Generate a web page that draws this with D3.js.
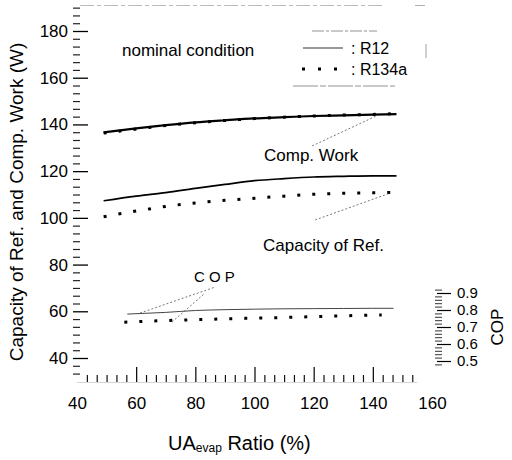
<!DOCTYPE html>
<html><head><meta charset="utf-8">
<script src="https://cdn.jsdelivr.net/npm/d3@7"></script>
<style>
body{margin:0;background:#fff;}
svg{display:block;font-family:"Liberation Sans",Arial,sans-serif;}
.tick text{font-family:"Liberation Sans",Arial,sans-serif;fill:#000;}
</style></head>
<body>
<svg id="c" width="512" height="460"></svg>
<script>
// ---- data ----
const xTicks = [40, 60, 80, 100, 120, 140, 160];
const yTicks = [40, 60, 80, 100, 120, 140, 160, 180];
const copTicks = [0.5, 0.6, 0.7, 0.8, 0.9];

const ratioWork = [49, 60, 70, 80, 90, 100, 110, 120, 130, 140, 148];
const workR12   = [136.6, 138.3, 139.7, 140.9, 141.8, 142.6, 143.1, 143.6, 143.9, 144.2, 144.4];
const workR134a = [136.3, 138.0, 139.5, 140.7, 141.7, 142.5, 143.1, 143.6, 144.0, 144.3, 144.6];

const ratioCap  = [49, 60, 70, 80, 90, 100, 110, 120, 130, 140, 148];
const capR12    = [107.3, 109.3, 110.8, 112.6, 114.3, 115.9, 116.8, 117.5, 117.8, 118.0, 118.0];
const ratioCap134 = [49, 60, 70, 80, 90, 100, 110, 120, 130, 140, 147];
const capR134a  = [100.5, 102.9, 104.9, 106.4, 107.5, 108.4, 109.3, 110.1, 110.5, 110.7, 110.9];

const ratioCopR12 = [57, 65, 70, 80, 90, 100, 110, 120, 130, 140, 147];
const copR12      = [0.776, 0.782, 0.786, 0.797, 0.802, 0.805, 0.807, 0.808, 0.809, 0.810, 0.810];
const ratioCop134 = [56, 60, 70, 80, 90, 100, 110, 120, 130, 143];
const copR134a    = [0.728, 0.731, 0.738, 0.743, 0.748, 0.752, 0.756, 0.761, 0.766, 0.771];

// ---- scales ----
const svg = d3.select("#c");
const x = d3.scaleLinear().domain([40, 160]).range([77, 432]);
const y = d3.scaleLinear().domain([40, 180]).range([358, 31]);
const yc = d3.scaleLinear().domain([0.5, 0.9]).range([361, 293]);

const step = 20 / 6;
// ---- left axis: tick marks pointing right, labels left ----
const yMinor = d3.range(40 - 2 * step, 190.1, step).filter(v => Math.abs(((v - 40) / 20) - Math.round((v - 40) / 20)) > 0.01);
svg.append("g").attr("transform", "translate(73,0)")
  .call(d3.axisRight(y).tickValues(yMinor).tickSize(7).tickFormat(""))
  .call(g => g.select(".domain").remove())
  .call(g => g.selectAll("line").attr("stroke", "#222").attr("stroke-width", 1.2));
svg.append("g").attr("transform", "translate(73,0)")
  .call(d3.axisRight(y).tickValues(yTicks).tickSize(15).tickFormat(""))
  .call(g => g.select(".domain").remove())
  .call(g => g.selectAll("line").attr("stroke", "#000").attr("stroke-width", 1.3));
svg.append("g").attr("transform", "translate(73,0)")
  .call(d3.axisLeft(y).tickValues(yTicks).tickSize(0).tickPadding(5))
  .call(g => g.select(".domain").remove())
  .call(g => g.selectAll("text").attr("font-size", 17));

// ---- bottom axis ----
const xMinor = d3.range(40 + step, 155, step).filter(v => Math.abs(((v - 40) / 20) - Math.round((v - 40) / 20)) > 0.01);
svg.append("g").attr("transform", "translate(0,382)")
  .call(d3.axisTop(x).tickValues(xMinor).tickSize(7).tickFormat(""))
  .call(g => g.select(".domain").attr("d", `M${x(40)},0.5H${x(155)}`).attr("stroke", "#bbb").attr("stroke-width", 0.6))
  .call(g => g.selectAll("line").attr("stroke", "#111").attr("stroke-width", 1.2));
svg.append("g").attr("transform", "translate(0,382)")
  .call(d3.axisTop(x).tickValues([60, 80, 100, 120, 140]).tickSize(15).tickFormat(""))
  .call(g => g.select(".domain").remove())
  .call(g => g.selectAll("line").attr("stroke", "#000").attr("stroke-width", 1.2));
svg.append("g").attr("transform", "translate(0,382)")
  .call(d3.axisBottom(x).tickValues(xTicks).tickSize(0).tickPadding(15))
  .call(g => g.select(".domain").remove())
  .call(g => g.selectAll("text").attr("font-size", 17));

// ---- COP axis (right) ----
const copMinor = d3.range(0.48, 0.921, 0.02).filter(v => Math.abs(v * 10 - Math.round(v * 10)) > 0.01);
svg.append("g").attr("transform", "translate(435,0)")
  .call(d3.axisRight(yc).tickValues(copMinor).tickSize(7).tickFormat(""))
  .call(g => g.select(".domain").remove())
  .call(g => g.selectAll("line").attr("stroke", "#333").attr("stroke-width", 1));
svg.append("g").attr("transform", "translate(437,0)")
  .call(d3.axisRight(yc).tickValues(copTicks).tickSize(14).tickPadding(6).tickFormat(d3.format(".1f")))
  .call(g => g.select(".domain").remove())
  .call(g => g.selectAll("line").attr("stroke", "#000").attr("stroke-width", 1.2))
  .call(g => g.selectAll("text").attr("font-size", 15));

// ---- curves ----
const lineW = d3.line().x(d => x(d[0])).y(d => y(d[1])).curve(d3.curveMonotoneX);
const lineC = d3.line().x(d => x(d[0])).y(d => yc(d[1])).curve(d3.curveMonotoneX);
const zip = (a, b) => a.map((v, i) => [v, b[i]]);

function solid(path, w, col) {
  svg.append("path").attr("d", path).attr("fill", "none").attr("stroke", col || "#000").attr("stroke-width", w);
}
function dotted(path) {
  svg.append("path").attr("d", path).attr("fill", "none").attr("stroke", "#000")
    .attr("stroke-width", 3).attr("stroke-dasharray", "3,12");
}
solid(lineW(zip(ratioWork, workR12)), 2.2);
dotted(lineW(zip(ratioWork, workR134a)));
solid(lineW(zip(ratioCap, capR12)), 1.7);
dotted(lineW(zip(ratioCap134, capR134a)));
solid(lineC(zip(ratioCopR12, copR12)), 1, "#444");
dotted(lineC(zip(ratioCop134, copR134a)));

// ---- annotations ----
const lead = (x1, y1, x2, y2) => svg.append("line").attr("x1", x1).attr("y1", y1).attr("x2", x2).attr("y2", y2)
  .attr("stroke", "#555").attr("stroke-width", 0.8).attr("stroke-dasharray", "2,2");
lead(x(119.5), y(130.8), x(141.8), y(144));
lead(x(120.5), y(99.1), x(145.8), y(110.6));
lead(x(61.3), yc(0.782), x(86.7), yc(0.935));
lead(x(72.1), yc(0.729), x(83.3), yc(0.9));

const txt = (t, px, py, fs, anchor) => svg.append("text").attr("x", px).attr("y", py)
  .attr("font-size", fs).attr("text-anchor", anchor || "start").attr("fill", "#000").text(t);
txt("nominal condition", 122, 56, 17);
txt("Comp. Work", 264, 161, 17);
txt("Capacity of Ref.", 263, 251, 17);
txt("C O P", 194, 282, 15);

// legend
svg.append("line").attr("x1", 303).attr("x2", 343).attr("y1", 48).attr("y2", 48).attr("stroke", "#333").attr("stroke-width", 1);
svg.append("line").attr("x1", 302).attr("x2", 340).attr("y1", 69).attr("y2", 69).attr("stroke", "#000")
  .attr("stroke-width", 3).attr("stroke-dasharray", "3,13");
txt(": R12", 351, 54, 16);
txt(": R134a", 351, 75, 16);
svg.append("line").attr("x1", 312).attr("x2", 377).attr("y1", 31).attr("y2", 31).attr("stroke", "#777").attr("stroke-width", 0.8).attr("stroke-dasharray", "12,2,3,2");
svg.append("line").attr("x1", 293).attr("x2", 395).attr("y1", 86).attr("y2", 86).attr("stroke", "#777").attr("stroke-width", 0.8).attr("stroke-dasharray", "25,2,6,2");
svg.append("line").attr("x1", 426).attr("x2", 426).attr("y1", 44).attr("y2", 58).attr("stroke", "#888").attr("stroke-width", 0.8);
// top frame remnant
svg.append("line").attr("x1", 80).attr("x2", 385).attr("y1", 5.5).attr("y2", 5.5).attr("stroke", "#aaa").attr("stroke-width", 0.8).attr("stroke-dasharray", "14,3,4,3");
svg.append("line").attr("x1", 415).attr("x2", 425).attr("y1", 5.5).attr("y2", 5.5).attr("stroke", "#999").attr("stroke-width", 0.8);

// axis titles
svg.append("text").attr("transform", "translate(23,202) rotate(-90)").attr("text-anchor", "middle")
  .attr("font-size", 19).text("Capacity of Ref. and Comp. Work (W)");
svg.append("text").attr("transform", "translate(503,327) rotate(-90)").attr("text-anchor", "middle")
  .attr("font-size", 17).text("COP");
const xl = svg.append("text").attr("x", 168).attr("y", 450).attr("font-size", 20);
xl.append("tspan").text("UA");
xl.append("tspan").attr("font-size", 12).attr("dy", 2).text("evap");
xl.append("tspan").attr("dy", -2).text(" Ratio (%)");
</script>
</body></html>
